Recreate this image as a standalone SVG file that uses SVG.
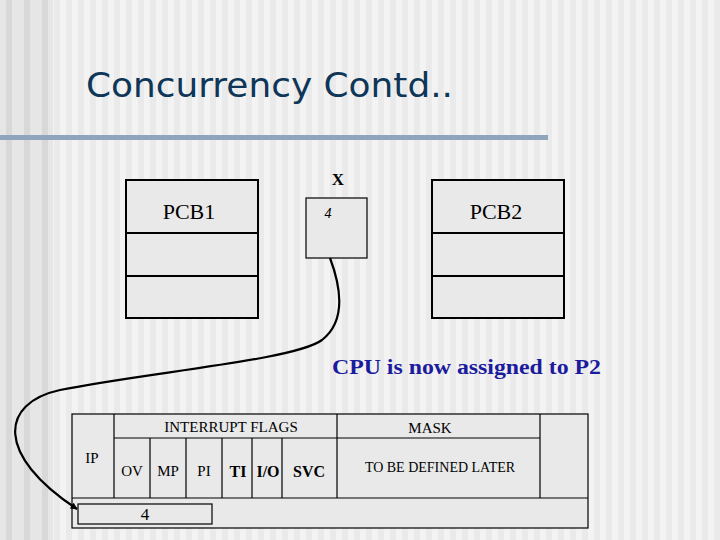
<svg xmlns="http://www.w3.org/2000/svg" width="720" height="540" viewBox="0 0 720 540">
<defs>
<pattern id="bgMain" width="12" height="10" patternUnits="userSpaceOnUse">
<rect width="12" height="10" fill="#f3f3f3"/>
<rect x="6" width="6" height="10" fill="#eaeaea"/>
</pattern>
<pattern id="bgLeft" width="18" height="10" patternUnits="userSpaceOnUse">
<rect width="18" height="10" fill="#e6e6e6"/>
<rect x="6" width="6" height="10" fill="#d8d8d8"/>
</pattern>
<marker id="arrow" viewBox="0 0 10 10" refX="9" refY="5" markerWidth="7" markerHeight="7" orient="auto" markerUnits="userSpaceOnUse">
<path d="M0,0 L10,5 L0,10 z" fill="#000"/>
</marker>
<style>
.box{fill:#e9e9e9;stroke:#000;stroke-width:2}
.cell{fill:#e9e9e9;stroke:#000;stroke-width:1.2}
.ln{stroke:#000;stroke-width:2}
.ln1{stroke:#000;stroke-width:1.2}
.t{fill:#000;text-anchor:middle}
.tb{fill:#000;text-anchor:middle;font-weight:bold}
</style>
</defs>
<rect width="720" height="540" fill="url(#bgMain)"/>
<rect width="53" height="540" fill="url(#bgLeft)"/>
<text x="86" y="97" font-family="DejaVu Sans, Verdana, sans-serif" font-size="33" fill="#0e3658" textLength="367" lengthAdjust="spacingAndGlyphs">Concurrency Contd..</text>
<rect x="0" y="135" width="548" height="5" fill="#8fa5bb"/>
<g font-family="Liberation Serif, Times New Roman, serif">
<g id="pcb1">
<rect class="box" x="126" y="180" width="132" height="138"/>
<line class="ln" x1="126" y1="233" x2="258" y2="233"/>
<line class="ln" x1="126" y1="276" x2="258" y2="276"/>
<text class="t" x="189" y="219" font-size="22" font-family="Liberation Serif, serif">PCB1</text>
</g>
<g id="x">
<text class="tb" x="338" y="185" font-size="17" font-family="Liberation Serif, serif">X</text>
<rect class="cell" x="306" y="198" width="61" height="60"/>
<text class="t" x="328" y="218" font-size="14" font-style="italic" font-family="Liberation Serif, serif">4</text>
</g>
<g id="pcb2">
<rect class="box" x="432" y="180" width="132" height="138"/>
<line class="ln" x1="432" y1="233" x2="564" y2="233"/>
<line class="ln" x1="432" y1="276" x2="564" y2="276"/>
<text class="t" x="496" y="219" font-size="22" font-family="Liberation Serif, serif">PCB2</text>
</g>
<g id="cpu">
<text x="332" y="374" font-family="Liberation Serif, serif" font-size="20" font-weight="bold" fill="#1b1b9e" textLength="269" lengthAdjust="spacingAndGlyphs">CPU is now assigned to P2</text>
</g>
<g id="psw" font-family="Liberation Serif, serif">
<rect class="cell" x="72" y="414" width="516" height="114"/>
<line class="ln1" x1="114" y1="414" x2="114" y2="498"/>
<line class="ln1" x1="72" y1="498" x2="588" y2="498"/>
<line class="ln1" x1="114" y1="438" x2="540" y2="438"/>
<line class="ln1" x1="150" y1="438" x2="150" y2="498"/>
<line class="ln1" x1="186" y1="438" x2="186" y2="498"/>
<line class="ln1" x1="222" y1="438" x2="222" y2="498"/>
<line class="ln1" x1="252" y1="438" x2="252" y2="498"/>
<line class="ln1" x1="282" y1="438" x2="282" y2="498"/>
<line class="ln1" x1="337" y1="414" x2="337" y2="498"/>
<line class="ln1" x1="540" y1="414" x2="540" y2="498"/>
<text class="t" x="231" y="432" font-size="15" font-family="Liberation Serif, serif">INTERRUPT FLAGS</text>
<text class="t" x="430" y="433" font-size="15" font-family="Liberation Serif, serif">MASK</text>
<text class="t" x="92" y="463" font-size="15" font-family="Liberation Serif, serif">IP</text>
<text class="t" x="132" y="476" font-size="15" font-family="Liberation Serif, serif">OV</text>
<text class="t" x="168" y="476" font-size="15" font-family="Liberation Serif, serif">MP</text>
<text class="t" x="204" y="476" font-size="15" font-family="Liberation Serif, serif">PI</text>
<text class="tb" x="238" y="477" font-size="16" font-family="Liberation Serif, serif">TI</text>
<text class="tb" x="268" y="477" font-size="16" font-family="Liberation Serif, serif">I/O</text>
<text class="tb" x="309" y="477" font-size="16" font-family="Liberation Serif, serif">SVC</text>
<text class="t" x="440" y="472" font-size="14" font-family="Liberation Serif, serif">TO BE DEFINED LATER</text>
</g>
<g id="ipval">
<rect class="cell" x="78" y="504" width="134" height="20"/>
<text class="t" x="145" y="520" font-size="17" font-family="Liberation Serif, serif">4</text>
</g>
</g>
<g id="connectors">
<path d="M330 258 C 342 290, 345 322, 322 340 C 295 360, 150 372, 60 390 C 0 403, -5 455, 77 509" fill="none" stroke="#000" stroke-width="2.2" marker-end="url(#arrow)"/>
</g>
</svg>
